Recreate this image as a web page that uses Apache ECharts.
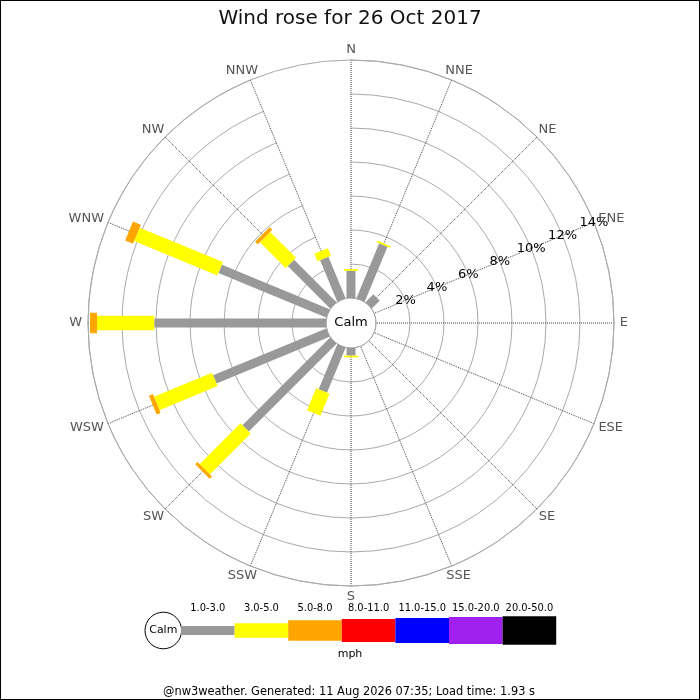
<!DOCTYPE html>
<html><head><meta charset="utf-8">
<script src="https://cdn.jsdelivr.net/npm/echarts@6/dist/echarts.min.js"></script>
<style>html,body{margin:0;padding:0;background:#fff}#c{width:700px;height:700px;box-sizing:border-box;border:1px solid #000}</style>
</head><body><div id="c"></div>
<script>
// ---- data ----
const titleText = 'Wind rose for 26 Oct 2017';
const directions = ['N','NNE','NE','ENE','E','ESE','SE','SSE','S','SSW','SW','WSW','W','WNW','NW','NNW'];
const speedBins = ['1.0-3.0','3.0-5.0','5.0-8.0','8.0-11.0','11.0-15.0','15.0-20.0','20.0-50.0'];
const speedUnit = 'mph';
const calmLabel = 'Calm';
const pctTicks = [2, 4, 6, 8, 10, 12, 14];
const pctTickLabels = ['2%','4%','6%','8%','10%','12%','14%'];
const tickLabelDirection = 'ENE';
// percentage of time per direction, by speed bin
const sp1to3   = [1.6, 3.5, 0.65, 0, 0, 0, 0, 0, 0.45, 2.86, 7.3, 7.2, 10.1, 6.86, 3.53, 2.64];
const sp3to5   = [0.1, 0.1, 0, 0, 0, 0, 0, 0, 0.1, 1.4, 3.4, 3.7, 3.37, 5.3, 2.15, 0.48];
const sp5to8   = [0, 0, 0, 0, 0, 0, 0, 0, 0, 0, 0.18, 0.25, 0.41, 0.5, 0.22, 0];
const sp8to11  = [0, 0, 0, 0, 0, 0, 0, 0, 0, 0, 0, 0, 0, 0, 0, 0];
const sp11to15 = [0, 0, 0, 0, 0, 0, 0, 0, 0, 0, 0, 0, 0, 0, 0, 0];
const sp15to20 = [0, 0, 0, 0, 0, 0, 0, 0, 0, 0, 0, 0, 0, 0, 0, 0];
const sp20to50 = [0, 0, 0, 0, 0, 0, 0, 0, 0, 0, 0, 0, 0, 0, 0, 0];
const footerText = '@nw3weather. Generated: 11 Aug 2026 07:35; Load time: 1.93 s';

// ---- styles ----
const binColors = ['#999999','#ffff00','#ffa500','#ff0000','#0000ff','#a020f0','#000000'];
const binWidths = [9, 14.5, 20.5, 23, 25, 27, 28.7];
const FONT = 'DejaVu Sans';
const DIR_FONT = '13px "DejaVu Sans"';
const LEG_FONT = '11px "DejaVu Sans Condensed", "DejaVu Sans"';
const CX = 350, CY = 322, R0 = 25, R1 = 263;
const LABEL_GAP = 5.8, LABEL_HALF_H = 4.7;

const allBins = [sp1to3, sp3to5, sp5to8, sp8to11, sp11to15, sp15to20, sp20to50];
const segments = [];
directions.forEach((d, i) => {
  let cum = 0;
  allBins.forEach((arr, b) => {
    const v = arr[i];
    if (v > 0) { segments.push([cum, i, cum + v, b]); cum += v; }
  });
});
const dirIdx = directions.indexOf(tickLabelDirection);
const maxPct = pctTicks[pctTicks.length - 1];

const measureCtx = document.createElement('canvas').getContext('2d');
measureCtx.font = DIR_FONT;
const dirHalfW = directions.map(d => measureCtx.measureText(d).width / 2);

// legend graphic
const legendX0 = 180, legendSegW = 53.6, legendY = 629.5;
const graphics = [
  { type: 'text', x: CX, y: CY, style: { text: calmLabel, align: 'center', verticalAlign: 'middle', font: '13px "' + FONT + '"', fill: '#000' }, z: 100 },
  { type: 'circle', shape: { cx: 162.3, cy: legendY, r: 18.3 }, style: { fill: '#fff', stroke: '#000', lineWidth: 1 } },
  { type: 'text', x: 162.3, y: legendY, style: { text: calmLabel, align: 'center', verticalAlign: 'middle', font: '11px "' + FONT + '"', fill: '#000' } },
  { type: 'text', x: 349, y: 653, style: { text: speedUnit, align: 'center', verticalAlign: 'middle', font: '11px "' + FONT + '"', fill: '#000' } },
  { type: 'text', x: 348, y: 691, style: { text: footerText, align: 'center', verticalAlign: 'middle', font: '11.4px "' + FONT + '"', fill: '#000' } }
];
speedBins.forEach((lab, b) => {
  const x = legendX0 + b * legendSegW;
  graphics.push({ type: 'rect', shape: { x: x, y: legendY - binWidths[b] / 2, width: legendSegW, height: binWidths[b] }, style: { fill: binColors[b] } });
  graphics.push({ type: 'text', x: x + legendSegW / 2, y: 607, style: { text: lab, align: 'center', verticalAlign: 'middle', font: LEG_FONT, fill: '#000' } });
});

const chart = echarts.init(document.getElementById('c'));
chart.setOption({
  backgroundColor: '#fff',
  animation: false,
  title: { text: titleText, left: 'center', top: 3, textStyle: { fontSize: 20, fontWeight: 'normal', color: '#111', fontFamily: FONT } },
  polar: { center: [CX, CY], radius: [R0, R1] },
  angleAxis: {
    type: 'category', data: directions, boundaryGap: false, startAngle: 90, clockwise: true,
    axisTick: { show: false },
    axisLine: { show: true, lineStyle: { color: '#aaa', width: 1 } },
    axisLabel: { show: false },
    splitLine: { show: true, lineStyle: { color: '#444', type: 'dotted', width: 1 } }
  },
  radiusAxis: {
    type: 'value', min: 0, max: maxPct, interval: 2,
    axisLine: { show: false }, axisTick: { show: false }, axisLabel: { show: false },
    splitLine: { show: true, lineStyle: { color: '#aaa', width: 1, type: 'solid' } }
  },
  graphic: graphics,
  series: [
    {
      type: 'custom', coordinateSystem: 'polar',
      dimensions: ['r0', 'dir', 'r1', 'bin'],
      encode: { radius: 0, angle: 1 },
      data: segments,
      renderItem: function (params, api) {
        const a = api.value(0), i = api.value(1), b = api.value(2), k = api.value(3);
        const p0 = api.coord([a, i]);
        const p1 = api.coord([b, i]);
        const dx = p1[0] - p0[0], dy = p1[1] - p0[1];
        const len = Math.sqrt(dx * dx + dy * dy) || 1;
        const h = binWidths[k] / 2;
        const nx = -dy / len * h, ny = dx / len * h;
        return {
          type: 'polygon',
          shape: { points: [[p0[0] + nx, p0[1] + ny], [p1[0] + nx, p1[1] + ny], [p1[0] - nx, p1[1] - ny], [p0[0] - nx, p0[1] - ny]] },
          style: { fill: binColors[k] }
        };
      }
    },
    {
      type: 'custom', coordinateSystem: 'polar',
      dimensions: ['r', 'dir', 'idx'],
      encode: { radius: 0, angle: 1 },
      data: pctTicks.map((v, j) => [v, dirIdx, j]),
      z: 10,
      renderItem: function (params, api) {
        const p = api.coord([api.value(0), api.value(1)]);
        return {
          type: 'text', x: p[0], y: p[1],
          style: { text: pctTickLabels[api.value(2)], align: 'center', verticalAlign: 'middle', font: '13px "' + FONT + '"', fill: '#000' }
        };
      }
    },
    {
      type: 'custom', coordinateSystem: 'polar',
      dimensions: ['r', 'dir'],
      encode: { radius: 0, angle: 1 },
      data: directions.map((d, i) => [maxPct, i]),
      z: 10,
      renderItem: function (params, api) {
        const i = api.value(1);
        const pOut = api.coord([api.value(0), i]);
        const pIn = api.coord([0, i]);
        const dx = pOut[0] - pIn[0], dy = pOut[1] - pIn[1];
        const len = Math.sqrt(dx * dx + dy * dy) || 1;
        const ux = dx / len, uy = dy / len;
        const x = pOut[0] + ux * LABEL_GAP + ux * dirHalfW[i];
        const y = pOut[1] + uy * LABEL_GAP + uy * LABEL_HALF_H;
        return {
          type: 'text', x: x, y: y,
          style: { text: directions[i], align: 'center', verticalAlign: 'middle', font: DIR_FONT, fill: '#555' }
        };
      }
    }
  ]
});
</script></body></html>
